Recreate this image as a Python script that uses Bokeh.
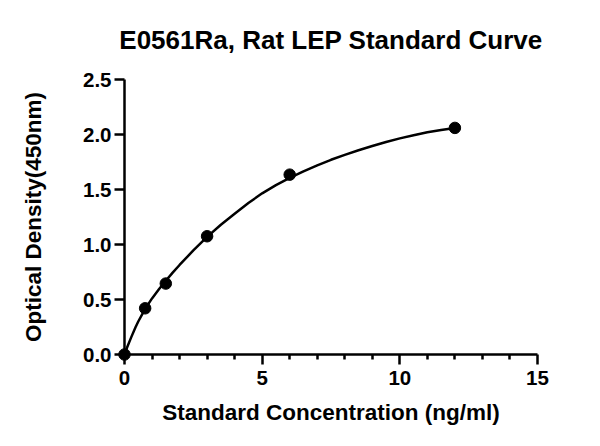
from bokeh.plotting import figure
from bokeh.models import FixedTicker, Range1d
from bokeh.embed import file_html
from bokeh.resources import INLINE

# Standard points
conc = [0.0, 0.75, 1.5, 3.0, 6.0, 12.0]
od = [0.0, 0.42, 0.645, 1.075, 1.635, 2.06]

# Fitted curve
curve_x = [0, 0.1, 0.25, 0.4, 0.5, 0.75, 1.0, 1.25, 1.5, 1.75, 2.0, 2.5, 3.0, 3.5, 4.0, 4.5,
           5.0, 5.5, 6.0, 6.5, 7.0, 7.5, 8.0, 8.5, 9.0, 9.5, 10.0, 10.5, 11.0, 11.5, 12.0]
curve_y = [0, 0.068, 0.16, 0.247, 0.3, 0.415, 0.51, 0.5925, 0.67, 0.744, 0.814, 0.946, 1.069,
           1.18, 1.28, 1.377, 1.465, 1.54, 1.605, 1.665, 1.72, 1.77, 1.815, 1.857, 1.895,
           1.932, 1.965, 1.994, 2.02, 2.041, 2.06]

x_ticks = [0, 5, 10, 15]
x_minor = [1, 2, 3, 4, 6, 7, 8, 9, 11, 12, 13, 14]
y_ticks = [0.0, 0.5, 1.0, 1.5, 2.0, 2.5]

FONT = "Liberation Sans"

p = figure(width=600, height=446, output_backend="svg", toolbar_location=None,
           x_range=Range1d(0, 15), y_range=Range1d(0, 2.5),
           title="E0561Ra, Rat LEP Standard Curve",
           min_border_left=124, min_border_right=63, min_border_top=79, min_border_bottom=92)

p.title.text_font = FONT
p.title.text_font_size = "26px"
p.title.text_font_style = "bold"
p.title.align = "center"
p.title.text_color = "black"
p.title.vertical_align = "top"
p.title.standoff = 45
p.title.offset = 0

p.outline_line_color = None
p.xgrid.grid_line_color = None
p.ygrid.grid_line_color = None

for ax in (p.xaxis[0], p.yaxis[0]):
    ax.axis_line_width = 2.5
    ax.axis_line_color = "black"
    ax.major_tick_line_width = 2.5
    ax.major_tick_line_color = "black"
    ax.minor_tick_line_width = 2.5
    ax.minor_tick_line_color = "black"
    ax.major_tick_out = 10
    ax.major_tick_in = 0
    ax.minor_tick_out = 5
    ax.minor_tick_in = 0
    ax.major_label_text_font = FONT
    ax.major_label_text_font_style = "bold"
    ax.major_label_text_font_size = "20.5px"
    ax.major_label_text_color = "black"
    ax.axis_label_text_font = FONT
    ax.axis_label_text_font_style = "bold"
    ax.axis_label_text_font_size = "22.5px"
    ax.axis_label_text_color = "black"

p.xaxis.ticker = FixedTicker(ticks=x_ticks, minor_ticks=x_minor)
p.yaxis.ticker = FixedTicker(ticks=y_ticks)
p.yaxis.minor_tick_line_color = None
p.yaxis.major_label_overrides = {v: f"{v:.1f}" for v in y_ticks}
p.xaxis.major_label_overrides = {v: str(v) for v in x_ticks}

p.xaxis.axis_label = "Standard Concentration (ng/ml)"
p.yaxis.axis_label = "Optical Density(450nm)"
p.xaxis.major_label_standoff = 6
p.yaxis.major_label_standoff = 3
p.xaxis.axis_label_standoff = 12
p.yaxis.axis_label_standoff = 34

p.line(curve_x, curve_y, line_color="black", line_width=2.5, line_join="round")
p.scatter(conc, od, size=11.5, fill_color="black", line_color="black", level="overlay")

open("out.html", "w").write(file_html(p, INLINE))
